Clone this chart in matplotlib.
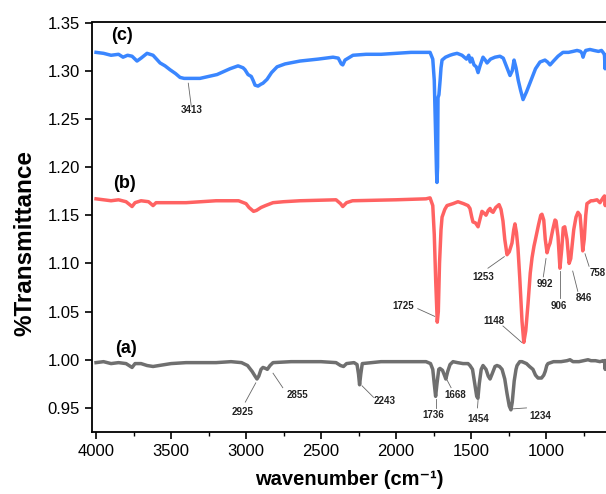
import matplotlib
matplotlib.use("Agg")
import matplotlib.pyplot as plt
from matplotlib.ticker import MultipleLocator, FormatStrFormatter

plt.rcParams['font.family'] = ['Liberation Sans', 'DejaVu Sans']

# ---- spectrum (c) ----
c_wn = [4000, 3950, 3900, 3850, 3820, 3790, 3760, 3727, 3700, 3660, 3620, 3573, 3540, 3507, 3470, 3440,
        3413, 3360, 3307, 3250, 3193, 3150, 3107, 3053, 3020, 3007, 2987, 2965, 2953, 2940, 2920, 2900,
        2887, 2860, 2830, 2793, 2740, 2640, 2520, 2420, 2385, 2365, 2355, 2340, 2287, 2200, 2100, 2000,
        1900, 1800, 1773, 1755, 1745, 1737, 1730, 1727, 1723, 1720, 1714, 1706, 1700, 1693, 1670, 1640,
        1620, 1593, 1560, 1530, 1515, 1505, 1495, 1480, 1465, 1453, 1440, 1420, 1405, 1393, 1370, 1340,
        1307, 1285, 1260, 1240, 1225, 1213, 1200, 1185, 1170, 1153, 1130, 1100, 1070, 1040, 1007, 990,
        973, 950, 920, 887, 850, 820, 793, 770, 760, 753, 745, 735, 707, 680, 650, 630, 615, 610,
        606, 603, 600]
c_val = [1.319, 1.318, 1.316, 1.317, 1.314, 1.316, 1.315, 1.310, 1.313, 1.318, 1.316, 1.308, 1.305, 1.301,
         1.297, 1.293, 1.292, 1.292, 1.292, 1.294, 1.296, 1.299, 1.302, 1.305, 1.303, 1.301, 1.296, 1.294,
         1.290, 1.285, 1.284, 1.286, 1.287, 1.291, 1.298, 1.304, 1.307, 1.310, 1.312, 1.314, 1.313, 1.307,
         1.306, 1.311, 1.316, 1.317, 1.317, 1.318, 1.319, 1.319, 1.319, 1.312, 1.290, 1.240, 1.195, 1.184,
         1.200, 1.272, 1.275, 1.290, 1.303, 1.311, 1.314, 1.316, 1.317, 1.318, 1.316, 1.312, 1.316, 1.309,
         1.313, 1.306, 1.304, 1.298, 1.305, 1.314, 1.311, 1.308, 1.312, 1.314, 1.315, 1.313, 1.303, 1.295,
         1.300, 1.311, 1.303, 1.290, 1.280, 1.270, 1.278, 1.290, 1.302, 1.309, 1.311, 1.309, 1.306, 1.310,
         1.315, 1.319, 1.319, 1.320, 1.321, 1.320, 1.318, 1.314, 1.318, 1.321, 1.322, 1.321, 1.320, 1.321,
         1.318, 1.316, 1.302, 1.312, 1.316]

# ---- spectrum (b) ----
b_wn = [4000, 3950, 3900, 3850, 3800, 3760, 3740, 3700, 3650, 3620, 3600, 3500, 3400, 3300, 3200, 3100,
        3050, 3000, 2980, 2950, 2930, 2900, 2870, 2820, 2750, 2640, 2400, 2370, 2355, 2330, 2290, 2000,
        1800, 1773, 1755, 1745, 1735, 1725, 1718, 1710, 1700, 1693, 1675, 1660, 1620, 1587, 1550, 1520,
        1507, 1495, 1487, 1470, 1453, 1440, 1427, 1412, 1400, 1385, 1373, 1363, 1353, 1335, 1313, 1300,
        1287, 1275, 1260, 1245, 1227, 1215, 1207, 1197, 1187, 1175, 1160, 1148, 1135, 1120, 1105, 1093,
        1080, 1073, 1050, 1035, 1027, 1015, 1005, 993, 983, 973, 955, 940, 933, 920, 907, 895, 885, 875,
        860, 846, 835, 815, 800, 787, 773, 765, 755, 745, 735, 727, 700, 687, 660, 640, 620, 610, 605, 600]
b_val = [1.167, 1.166, 1.165, 1.166, 1.164, 1.159, 1.163, 1.165, 1.164, 1.160, 1.163, 1.163, 1.163, 1.164,
         1.165, 1.165, 1.165, 1.162, 1.158, 1.154, 1.155, 1.158, 1.160, 1.163, 1.164, 1.165, 1.166, 1.162,
         1.159, 1.163, 1.165, 1.166, 1.167, 1.168, 1.160, 1.130, 1.080, 1.039, 1.050, 1.100, 1.135, 1.148,
         1.156, 1.160, 1.162, 1.164, 1.162, 1.160, 1.157, 1.148, 1.143, 1.142, 1.138, 1.146, 1.154, 1.152,
         1.150, 1.155, 1.157, 1.154, 1.153, 1.158, 1.161, 1.156, 1.144, 1.125, 1.109, 1.112, 1.121, 1.135,
         1.141, 1.132, 1.116, 1.085, 1.040, 1.018, 1.030, 1.058, 1.090, 1.106, 1.118, 1.123, 1.140, 1.150,
         1.151, 1.145, 1.125, 1.111, 1.117, 1.121, 1.135, 1.145, 1.144, 1.128, 1.095, 1.115, 1.137, 1.138,
         1.125, 1.100, 1.105, 1.135, 1.148, 1.153, 1.150, 1.135, 1.113, 1.125, 1.150, 1.162, 1.165, 1.165,
         1.166, 1.163, 1.168, 1.170, 1.160, 1.168]

# ---- spectrum (a) ----
a_wn = [4000, 3950, 3900, 3850, 3800, 3760, 3740, 3700, 3660, 3620, 3580, 3500, 3400, 3200, 3100, 3030,
        2990, 2960, 2940, 2927, 2915, 2900, 2887, 2870, 2858, 2840, 2820, 2700, 2500, 2400, 2370, 2350,
        2330, 2280, 2260, 2250, 2243, 2235, 2225, 2100, 1900, 1800, 1770, 1755, 1745, 1736, 1727, 1715,
        1707, 1690, 1675, 1668, 1655, 1640, 1620, 1590, 1553, 1520, 1507, 1490, 1475, 1462, 1454, 1445,
        1432, 1420, 1400, 1385, 1373, 1360, 1340, 1327, 1310, 1293, 1275, 1260, 1245, 1234, 1225, 1212,
        1200, 1193, 1175, 1160, 1130, 1110, 1087, 1070, 1053, 1030, 1015, 1005, 995, 987, 950, 900, 860,
        840, 820, 780, 750, 720, 700, 670, 640, 620, 610, 605, 600]
a_val = [0.997, 0.998, 0.996, 0.997, 0.996, 0.992, 0.996, 0.996, 0.994, 0.993, 0.994, 0.996, 0.997, 0.997,
         0.998, 0.997, 0.994, 0.988, 0.983, 0.980, 0.983, 0.990, 0.992, 0.991, 0.990, 0.994, 0.997, 0.998,
         0.998, 0.997, 0.994, 0.993, 0.996, 0.997, 0.995, 0.985, 0.974, 0.985, 0.996, 0.998, 0.998, 0.998,
         0.996, 0.990, 0.975, 0.962, 0.975, 0.990, 0.991, 0.989, 0.983, 0.980, 0.988, 0.995, 0.998, 0.997,
         0.996, 0.996, 0.994, 0.990, 0.975, 0.962, 0.960, 0.975, 0.990, 0.994, 0.990, 0.983, 0.980, 0.985,
         0.993, 0.994, 0.993, 0.990, 0.980, 0.965, 0.952, 0.948, 0.956, 0.978, 0.990, 0.994, 0.998, 0.998,
         0.996, 0.993, 0.990, 0.984, 0.981, 0.981, 0.984, 0.988, 0.994, 0.996, 0.998, 0.998, 0.999, 1.000,
         0.998, 0.998, 0.999, 1.000, 0.999, 0.999, 0.998, 0.999, 0.998, 0.990, 0.999]

# ---- peak annotations: label, (line start), (line end), (text pos) ----
ann_labels = ['3413', '2925', '2855', '2243', '1736', '1668', '1454', '1234',
              '1725', '1148', '1253', '992', '906', '846', '758']
ann_start = [(3385, 1.287), (2935, 0.976), (2820, 0.986), (2227, 0.973), (1733, 0.959), (1660, 0.979),
             (1453, 0.958), (1222, 0.949), (1742, 1.045), (1162, 1.018), (1278, 1.107), (1000, 1.105),
             (906, 1.092), (822, 1.092), (740, 1.110)]
ann_end = [(3365, 1.263), (3005, 0.956), (2755, 0.971), (2150, 0.961), (1733, 0.950), (1633, 0.971),
           (1457, 0.950), (1130, 0.950), (1855, 1.053), (1287, 1.035), (1387, 1.095), (1018, 1.086),
           (906, 1.064), (788, 1.071), (713, 1.097)]
ann_text = [(3360, 1.259), (3020, 0.946), (2655, 0.963), (2073, 0.957), (1753, 0.943), (1603, 0.963),
            (1453, 0.938), (1040, 0.942), (1953, 1.056), (1347, 1.040), (1420, 1.086), (1007, 1.079),
            (913, 1.056), (747, 1.064), (653, 1.090)]

panel_labels = ['(c)', '(b)', '(a)']
panel_pos = [(3830, 1.337), (3812, 1.183), (3800, 1.012)]

fig = plt.figure(figsize=(6.06, 4.94), dpi=100)
ax = fig.add_axes([92 / 606, 62 / 494, 1 - 92 / 606, (432 - 22.5) / 494])

ax.plot(a_wn, a_val, color='#6f6f6f', lw=2.5, solid_joinstyle='round')
ax.plot(b_wn, b_val, color='#ff6262', lw=2.5, solid_joinstyle='round')
ax.plot(c_wn, c_val, color='#3a86ff', lw=2.5, solid_joinstyle='round')

for lab, s, e, t in zip(ann_labels, ann_start, ann_end, ann_text):
    ax.plot([s[0], e[0]], [s[1], e[1]], color='#666666', lw=0.6)
    ax.text(t[0], t[1], lab, fontsize=7, fontweight='bold', color='#222222',
            ha='center', va='center', clip_on=False)

for lab, p in zip(panel_labels, panel_pos):
    ax.text(p[0], p[1], lab, fontsize=13, fontweight='bold', ha='center', va='center')

ax.set_xlim(4027, 600)
ax.set_ylim(0.925, 1.35)
ax.xaxis.set_major_locator(MultipleLocator(500))
ax.xaxis.set_minor_locator(MultipleLocator(250))
ax.yaxis.set_major_locator(MultipleLocator(0.05))
ax.yaxis.set_major_formatter(FormatStrFormatter('%.2f'))
ax.tick_params(axis='both', which='major', direction='out', length=5, width=1.2, labelsize=12)
ax.tick_params(axis='x', which='minor', direction='out', length=3, width=1.0)
ax.tick_params(axis='y', which='minor', left=False)
for sp in ['left', 'bottom', 'top']:
    ax.spines[sp].set_linewidth(1.3)
ax.spines['right'].set_visible(False)

ax.set_xlabel('wavenumber (cm\u207b\u00b9)', fontsize=14.5, fontweight='bold', labelpad=8)
ax.set_ylabel('%Transmittance', fontsize=17.5, fontweight='bold')
ax.yaxis.set_label_coords(-0.108, 0.4615)

fig.savefig('out.png', dpi=100)
